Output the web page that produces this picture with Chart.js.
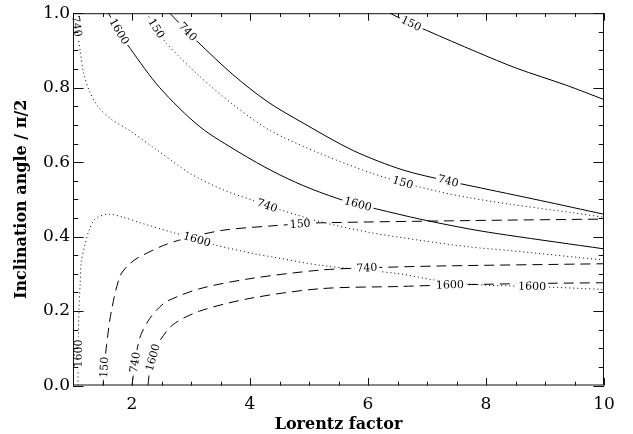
<!DOCTYPE html>
<html>
<head>
<meta charset="utf-8">
<script src="https://cdn.jsdelivr.net/npm/chart.js@4/dist/chart.umd.min.js"></script>
<style>
  html, body { margin: 0; padding: 0; background: #fff; }
  canvas { display: block; }
</style>
</head>
<body>
<canvas id="c" width="633" height="434"></canvas>
<script>
// Axis ticks (major, labelled)
const xTicks = [2, 4, 6, 8, 10];
const yTicks = [0, 0.2, 0.4, 0.6, 0.8, 1.0];

// Solid contours
const solid150X = [6.37, 6.73, 6.99, 7.84, 8.52, 9.37, 10];
const solid150Y = [1.0, 0.972, 0.954, 0.896, 0.852, 0.806, 0.768];
const solid740X = [2.64, 2.95, 3.1, 3.71, 4.29, 4.9, 5.75, 6.59, 7.36, 7.78, 8.92, 10];
const solid740Y = [1.0, 0.949, 0.925, 0.835, 0.763, 0.705, 0.631, 0.579, 0.549, 0.535, 0.497, 0.46];
const solid1600X = [1.6, 1.78, 1.97, 2.47, 3.15, 3.83, 4.39, 4.9, 5.47, 5.83, 6.15, 6.88, 7.73, 8.36, 10];
const solid1600Y = [1.0, 0.951, 0.905, 0.80, 0.695, 0.625, 0.575, 0.537, 0.503, 0.487, 0.474, 0.447, 0.42, 0.404, 0.367];

// Dotted contours
const dot150X = [2.25, 2.41, 2.59, 3.15, 3.71, 4.34, 5.19, 6.03, 6.59, 7.22, 7.73, 8.36, 9.47, 10];
const dot150Y = [1.0, 0.959, 0.918, 0.83, 0.755, 0.685, 0.623, 0.572, 0.545, 0.52, 0.504, 0.488, 0.464, 0.452];
const dot740X = [1.03, 1.07, 1.12, 1.18, 1.28, 1.42, 1.65, 1.93, 2.41, 2.98, 3.54, 4.05, 4.29, 4.51, 5.19, 6.03, 6.88, 7.73, 8.36, 10];
const dot740Y = [1.0, 0.955, 0.9, 0.84, 0.79, 0.75, 0.715, 0.688, 0.634, 0.57, 0.526, 0.497, 0.483, 0.472, 0.44, 0.411, 0.39, 0.372, 0.363, 0.337];
const dot1600X = [1.085, 1.09, 1.1, 1.12, 1.14, 1.2, 1.28, 1.38, 1.59, 1.85, 2.14, 2.69, 3.1, 3.42, 4.1, 4.39, 5.19, 6.54, 7.1, 7.95, 8.8, 10];
const dot1600Y = [0.0, 0.1, 0.2, 0.27, 0.33, 0.377, 0.42, 0.448, 0.46, 0.452, 0.437, 0.411, 0.392, 0.377, 0.353, 0.345, 0.323, 0.30, 0.284, 0.27, 0.266, 0.258];

// Dashed contours
const dash150X = [1.51, 1.53, 1.57, 1.65, 1.8, 1.95, 2.1, 2.53, 2.86, 3.54, 4.39, 4.85, 5.19, 7.73, 10];
const dash150Y = [0.0, 0.05, 0.11, 0.2, 0.295, 0.325, 0.343, 0.376, 0.393, 0.417, 0.429, 0.434, 0.437, 0.443, 0.447];
const dash740X = [2.0, 2.04, 2.09, 2.16, 2.3, 2.42, 2.59, 3.15, 4.0, 5.19, 5.98, 7.22, 10];
const dash740Y = [0.0, 0.05, 0.1, 0.14, 0.18, 0.203, 0.226, 0.26, 0.287, 0.31, 0.316, 0.321, 0.327];
const dash1600X = [2.27, 2.31, 2.38, 2.47, 2.7, 3.15, 4.0, 5.19, 6.54, 7.39, 8.8, 10];
const dash1600Y = [0.0, 0.05, 0.09, 0.12, 0.164, 0.2, 0.234, 0.26, 0.266, 0.27, 0.274, 0.276];

// Contour labels (data coordinates on each curve)
const contourLabels = [
  { key: 's150', text: '150', x: 6.73, y: 0.972 },
  { key: 's740', text: '740', x: 2.95, y: 0.951 },
  { key: 's740', text: '740', x: 7.36, y: 0.549 },
  { key: 's1600', text: '1600', x: 1.78, y: 0.951 },
  { key: 's1600', text: '1600', x: 5.83, y: 0.487 },
  { key: 'd150', text: '150', x: 2.41, y: 0.959 },
  { key: 'd150', text: '150', x: 6.59, y: 0.545 },
  { key: 'd740', text: '740', x: 1.06, y: 0.965 },
  { key: 'd740', text: '740', x: 4.29, y: 0.483 },
  { key: 'd1600', text: '1600', x: 1.09, y: 0.086 },
  { key: 'd1600', text: '1600', x: 3.1, y: 0.392 },
  { key: 'd1600', text: '1600', x: 8.78, y: 0.266 },
  { key: 'l150', text: '150', x: 1.53, y: 0.049 },
  { key: 'l150', text: '150', x: 4.85, y: 0.434 },
  { key: 'l740', text: '740', x: 2.05, y: 0.062 },
  { key: 'l740', text: '740', x: 5.98, y: 0.316 },
  { key: 'l1600', text: '1600', x: 2.36, y: 0.075 },
  { key: 'l1600', text: '1600', x: 7.39, y: 0.27 }
];

const SOLID = [], DOTTED = [1, 3], DASHED = [10, 6];

function curve(key, xs, ys, dash) {
  return {
    key, data: xs.map((v, i) => ({ x: v, y: ys[i] })),
    showLine: true, borderColor: '#000', borderWidth: 1, borderDash: dash,
    pointRadius: 0, pointHoverRadius: 0, tension: 0.3, fill: false
  };
}

// labels sit on the line, rotated along it, with the line broken underneath
const contourText = {
  id: 'contourText',
  afterDatasetsDraw(chart) {
    const { ctx, scales: { x, y } } = chart;
    ctx.save();
    ctx.font = '11px "DejaVu Serif"';
    ctx.textAlign = 'center';
    ctx.textBaseline = 'middle';
    contourLabels.forEach(l => {
      const ds = chart.data.datasets.find(d => d.key === l.key);
      const pts = ds.data.map(p => [x.getPixelForValue(p.x), y.getPixelForValue(p.y)]);
      const px = x.getPixelForValue(l.x), py = y.getPixelForValue(l.y);
      let best = null;
      for (let i = 0; i < pts.length - 1; i++) {
        const [x0, y0] = pts[i], [x1, y1] = pts[i + 1];
        const dx = x1 - x0, dy = y1 - y0, len2 = dx * dx + dy * dy;
        let t = ((px - x0) * dx + (py - y0) * dy) / len2;
        t = Math.max(0, Math.min(1, t));
        const qx = x0 + t * dx, qy = y0 + t * dy, d = (qx - px) ** 2 + (qy - py) ** 2;
        if (!best || d < best.d) best = { d, qx, qy, dx, dy };
      }
      let ang = Math.atan2(best.dy, best.dx);
      if (Math.cos(ang) < 0) ang += Math.PI;
      const w = ctx.measureText(l.text).width;
      ctx.save();
      ctx.translate(best.qx, best.qy);
      ctx.rotate(ang);
      ctx.fillStyle = '#fff';
      ctx.fillRect(-w / 2 - 2, -5, w + 4, 10);
      ctx.fillStyle = '#000';
      ctx.fillText(l.text, 0, 0.5);
      ctx.restore();
    });
    ctx.restore();
  }
};

// IDL-style box with inward major/minor ticks on all four sides
const frameTicks = {
  id: 'frameTicks',
  afterDraw(chart) {
    const { ctx, chartArea: a, scales: { x, y } } = chart;
    ctx.save();
    ctx.strokeStyle = '#111';
    ctx.lineWidth = 1;
    ctx.strokeRect(a.left + 0.5, a.top + 0.5, a.right - a.left - 1, a.bottom - a.top - 1);
    ctx.beginPath();
    for (let i = 2; i <= 20; i++) {
      const px = Math.round(x.getPixelForValue(i / 2)) + 0.5;
      const len = i % 4 === 0 ? 7.5 : 3.8;
      ctx.moveTo(px, a.bottom); ctx.lineTo(px, a.bottom - len);
      ctx.moveTo(px, a.top); ctx.lineTo(px, a.top + len);
    }
    for (let i = 0; i <= 20; i++) {
      const py = Math.round(y.getPixelForValue(i / 20)) + 0.5;
      const len = i % 4 === 0 ? 10.6 : 5.3;
      ctx.moveTo(a.left, py); ctx.lineTo(a.left + len, py);
      ctx.moveTo(a.right, py); ctx.lineTo(a.right - len, py);
    }
    ctx.stroke();
    ctx.restore();
  }
};

new Chart(document.getElementById('c'), {
  type: 'scatter',
  data: {
    datasets: [
      curve('s150', solid150X, solid150Y, SOLID),
      curve('s740', solid740X, solid740Y, SOLID),
      curve('s1600', solid1600X, solid1600Y, SOLID),
      curve('d150', dot150X, dot150Y, DOTTED),
      curve('d740', dot740X, dot740Y, DOTTED),
      curve('d1600', dot1600X, dot1600Y, DOTTED),
      curve('l150', dash150X, dash150Y, DASHED),
      curve('l740', dash740X, dash740Y, DASHED),
      curve('l1600', dash1600X, dash1600Y, DASHED)
    ]
  },
  options: {
    responsive: false,
    animation: false,
    devicePixelRatio: 1,
    layout: { padding: { left: 0, right: 29, top: 7, bottom: 0 } },
    plugins: { legend: { display: false }, tooltip: { enabled: false } },
    scales: {
      x: {
        type: 'linear', min: 1, max: 10,
        afterBuildTicks: (s) => { s.ticks = xTicks.map(v => ({ value: v })); },
        afterFit: (s) => { s.height = 48.5; },
        grid: { display: false, drawTicks: false },
        border: { display: false },
        ticks: { color: '#000', padding: 9, maxRotation: 0, font: { family: '"DejaVu Serif"', size: 17 } },
        title: { display: true, text: 'Lorentz factor', color: '#000', padding: { top: 0, bottom: 0 },
          font: { family: '"DejaVu Serif"', size: 16, weight: 'bold' } }
      },
      y: {
        type: 'linear', min: 0, max: 1,
        afterBuildTicks: (s) => { s.ticks = yTicks.map(v => ({ value: v })); },
        afterFit: (s) => { s.width = 73; },
        grid: { display: false, drawTicks: false },
        border: { display: false },
        ticks: { color: '#000', padding: 3, callback: (v) => v.toFixed(1), font: { family: '"DejaVu Serif"', size: 17 } },
        title: { display: true, text: 'Inclination angle / π/2', color: '#000', padding: { top: 12, bottom: 0 },
          font: { family: '"DejaVu Serif"', size: 16, weight: 'bold' } }
      }
    }
  },
  plugins: [contourText, frameTicks]
});
</script>
</body>
</html>
